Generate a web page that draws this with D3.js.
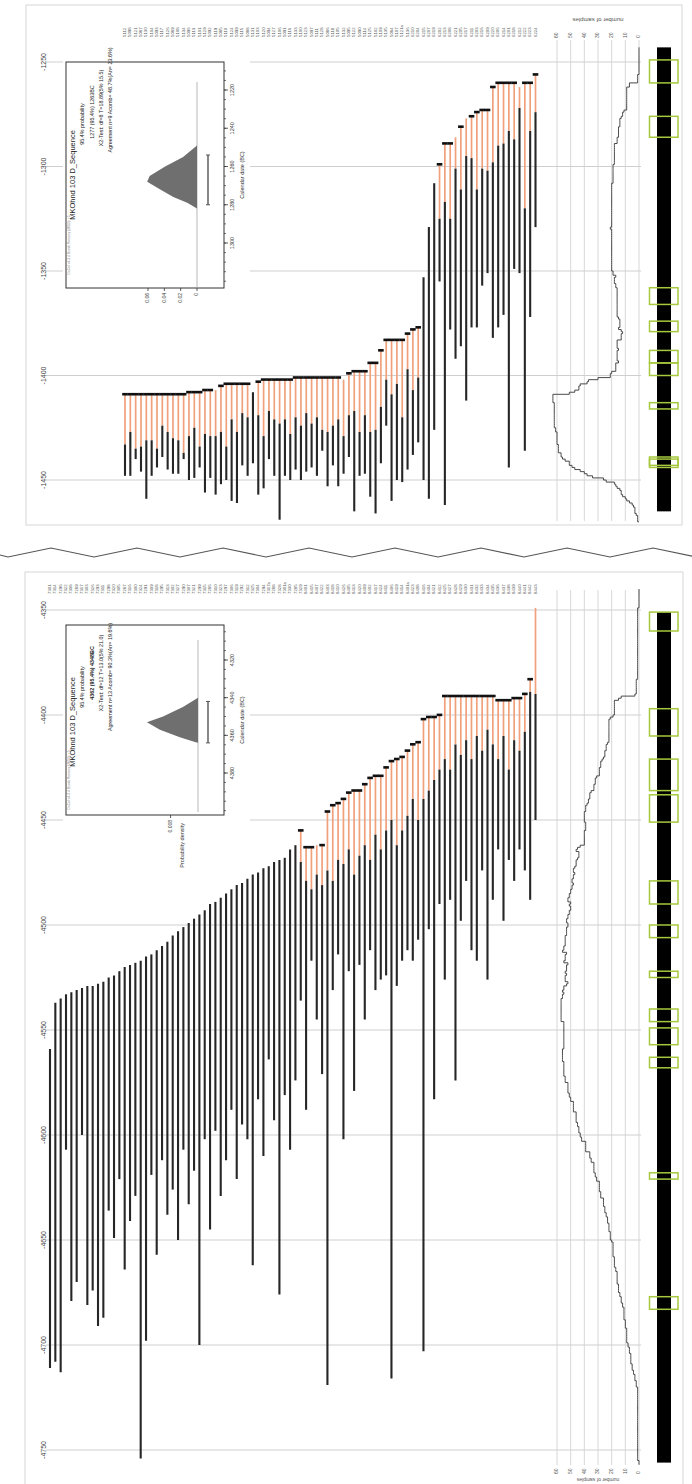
<!DOCTYPE html>
<html><head><meta charset="utf-8">
<script src="https://cdn.jsdelivr.net/npm/d3@7"></script>
<style>body{margin:0;background:#fff}svg{display:block;font-family:"Liberation Sans",Arial,sans-serif}</style>
</head><body><svg id="c" width="692" height="1484"></svg>
<script>
// ---------------- DATA ----------------
// Upper sequence (dates BC as negative years)
const topLabels = ["5112","5098","5121","5087","5130","5104","5093","5117","5126","5089",
"5108","5134","5096","5113","5101","5129","5092","5119","5085","5110",
"5124","5099","5115","5088","5131","5103","5120","5094","5127","5106",
"5091","5116","5133","5100","5123","5097","5111","5128","5086","5118",
"5105","5132","5095","5122","5090","5114","5125","5102","5109","5135",
"5084","5107","5121a","5136","6210","6204","6215","6207","6219","6202",
"6213","6208","6221","6205","6217","6211","6203","6216","6209","6220",
"6206","6214","6201","6218","6212","6222","6223","6224"];
const topEnd = [-1409,-1409,-1409,-1409,-1409,-1409,-1409,-1409,-1409,-1409,-1409,-1409,
-1408,-1408,-1408,-1407,-1407,-1407,-1405,-1404,-1404,-1404,-1404,-1404,-1408,-1403,
-1402,-1402,-1402,-1402,-1402,-1402,-1401,-1401,-1401,-1401,-1401,-1401,-1401,-1401,-1401,
-1402,-1399,-1398,-1398,-1398,-1394,-1394,-1388,-1383,-1383,-1383,-1383,-1380,-1378,-1377,
-1353,-1329,-1308,-1299,-1289,-1289,-1286,-1281,-1277,-1276,-1274,-1273,-1273,-1262,
-1260,-1260,-1260,-1260,-1262,-1260,-1260,-1256];
const topSap = [-1433,-1427,-1435,-1434,-1431,-1431,-1435,-1424,-1427,-1430,-1431,-1437,
-1429,-1425,-1434,-1428,-1429,-1429,-1427,-1434,-1421,-1427,-1418,-1420,-1408,-1419,
-1429,-1417,-1421,-1423,-1421,-1428,-1420,-1424,-1418,-1423,-1420,-1426,-1427,-1424,-1421,
-1429,-1419,-1417,-1427,-1419,-1427,-1426,-1415,-1402,-1409,-1404,-1420,-1397,-1407,-1401,
-1353,-1329,-1308,-1325,-1317,-1325,-1301,-1311,-1295,-1296,-1311,-1301,-1302,-1298,
-1290,-1289,-1283,-1287,-1272,-1320,-1283,-1274];
const topStart = [-1448,-1448,-1440,-1446,-1459,-1448,-1444,-1439,-1445,-1447,-1447,-1440,
-1450,-1449,-1444,-1456,-1449,-1457,-1452,-1450,-1460,-1461,-1443,-1448,-1442,-1457,
-1454,-1440,-1448,-1469,-1448,-1450,-1445,-1450,-1446,-1444,-1448,-1436,-1453,-1443,-1453,
-1447,-1439,-1465,-1448,-1447,-1458,-1466,-1442,-1424,-1460,-1450,-1451,-1445,-1438,-1432,
-1450,-1459,-1426,-1355,-1462,-1378,-1392,-1386,-1412,-1377,-1377,-1357,-1351,-1382,
-1377,-1371,-1444,-1349,-1351,-1436,-1372,-1329];
const topWaney = [1,1,1,1,1,1,1,1,1,1,1,1,1,1,1,1,1,0,1,1,1,1,1,1,0,1,
1,1,1,1,1,1,1,1,1,1,1,1,1,1,1,0,1,1,1,1,1,1,1,1,1,1,1,1,1,1,
0,0,0,1,1,1,0,1,0,1,1,1,1,1,1,1,1,1,0,1,1,1];
const topDateTicks = [-1250,-1300,-1350,-1400,-1450];
const topRangeBar = [-1243,-1465];
const topBoxes = [[-1249,-1260],[-1276,-1286],[-1358,-1366],[-1374,-1379],[-1388,-1394],
[-1394,-1400],[-1413,-1416],[-1439,-1443],[-1440,-1444]];

// Lower sequence
const botLabels = ["7301","7314","7296","7322","7308","7289","7317","7303","7326","7293",
"7311","7298","7320","7305","7287","7316","7300","7324","7291","7309",
"7318","7295","7313","7302","7327","7290","7307","7321","7299","7315",
"7286","7310","7323","7297","7306","7319","7292","7312","7325","7304",
"7294","7317a","7288","7328","7301a","7330","7285","7329","8401","8415",
"8407","8422","8403","8418","8410","8426","8405","8413","8420","8409",
"8402","8417","8424","8411","8406","8419","8414","8401a","8423","8408",
"8416","8404","8421","8412","8425","8427","8428","8429","8430","8431",
"8432","8433","8434","8435","8436","8437","8438","8439","8440","8441",
"8442","8443"];
const botEnd = [-4559,-4537,-4535,-4533,-4532,-4531,-4530,-4529,-4529,-4528,-4527,-4525,
-4524,-4522,-4520,-4519,-4518,-4517,-4515,-4514,-4512,-4510,-4508,-4505,-4503,-4501,
-4499,-4497,-4495,-4493,-4490,-4489,-4487,-4485,-4483,-4481,-4480,-4478,-4476,-4475,
-4473,-4472,-4470,-4469,-4468,-4464,-4462,
-4455,-4463,-4463,-4462,-4462,-4446,-4443,-4442,-4440,-4437,-4436,-4436,-4433,-4430,
-4429,-4429,-4425,-4422,-4421,-4420,-4417,-4414,-4413,-4402,-4401,-4401,-4400,
-4391,-4391,-4391,-4391,-4391,-4391,-4391,-4391,-4391,-4391,-4393,-4393,-4393,-4392,
-4392,-4390,-4383,-4349];
const botSap = [-4559,-4537,-4535,-4533,-4532,-4531,-4530,-4529,-4529,-4528,-4527,-4525,
-4524,-4522,-4520,-4519,-4518,-4517,-4515,-4514,-4512,-4510,-4508,-4505,-4503,-4501,
-4499,-4497,-4495,-4493,-4490,-4489,-4487,-4485,-4483,-4481,-4480,-4478,-4476,-4475,
-4473,-4472,-4470,-4469,-4468,-4464,-4462,
-4470,-4479,-4483,-4476,-4481,-4474,-4479,-4469,-4471,-4464,-4476,-4467,-4462,-4469,
-4457,-4464,-4455,-4450,-4462,-4455,-4448,-4440,-4450,-4440,-4436,-4431,-4426,
-4421,-4426,-4414,-4419,-4412,-4421,-4410,-4417,-4407,-4414,-4421,-4410,-4426,-4412,
-4417,-4408,-4389,-4390];
const botStart = [-4711,-4708,-4713,-4607,-4679,-4670,-4600,-4681,-4674,-4691,-4687,-4636,
-4649,-4621,-4664,-4641,-4629,-4754,-4698,-4619,-4657,-4612,-4638,-4626,-4650,-4607,
-4633,-4617,-4700,-4602,-4645,-4598,-4629,-4612,-4588,-4621,-4595,-4602,-4662,-4583,
-4610,-4564,-4593,-4676,-4581,-4607,-4574,
-4536,-4588,-4517,-4545,-4571,-4719,-4531,-4514,-4602,-4522,-4579,-4519,-4545,-4512,
-4531,-4526,-4524,-4716,-4529,-4517,-4512,-4517,-4507,-4703,-4502,-4583,-4490,
-4526,-4488,-4574,-4498,-4479,-4512,-4517,-4474,-4526,-4488,-4464,-4498,-4469,-4479,
-4464,-4474,-4488,-4450];
const botWaney = [0,0,0,0,0,0,0,0,0,0,0,0,0,0,0,0,0,0,0,0,0,0,0,0,0,0,0,0,0,0,0,0,0,0,0,0,0,0,0,0,0,0,0,0,0,0,0,
1,1,1,0,1,1,1,1,1,1,1,1,1,1,1,1,1,1,1,1,1,1,1,1,1,1,1,1,1,1,1,1,1,1,1,1,1,1,1,1,1,1,1,1,0];
const botDateTicks = [-4350,-4400,-4450,-4500,-4550,-4600,-4650,-4700,-4750];
const botRangeBar = [-4351,-4756];
const botBoxes = [[-4351,-4360],[-4397,-4410],[-4421,-4436],[-4438,-4451],[-4479,-4490],
[-4500,-4506],[-4522,-4525],[-4540,-4546],[-4549,-4557],[-4563,-4568],[-4618,-4621],[-4677,-4683]];

const countTicks = [60,50,40,30,20,10,0];

// Inset (boundary) distributions
const topInsetText = ["MKOhnd 103 D_Sequence","95.4% probability","1277 (95.4%) 1263BC",
"X2-Test: df=8 T=18.89(5% 15.5)","Agreement n=9 Acomb= 48.7%(An= 23.6%)"];
const topInsetTicks = [1220,1240,1260,1280,1300];
const topDensTicks = [0.06,0.04,0.02,0];
const topDensYear = [1249,1255,1260,1265,1268,1272,1276,1279,1282];
const topDensVal = [0,0.017,0.039,0.058,0.061,0.045,0.029,0.012,0];
const topRange95 = [1254,1280];

const botInsetText = ["MKOhnd 103 D_Sequence","95.4% probability","4362 (95.4%) 4348BC",
"X2-Test: df=12 T=13.0(5% 21.0)","Agreement n=13 Acomb= 90.3%(An= 19.6%)"];
const botInsetTicks = [4320,4340,4360,4380];
const botDensTicks = [0.008];
const botDensYear = [4340,4345,4350,4353,4357,4361,4363.5,4364];
const botDensVal = [0,0.0044,0.0102,0.0149,0.0111,0.0053,0.0009,0];
const botRange95 = [4342,4364];

// ---------------- DRAWING ----------------
const svg = d3.select('#c');
svg.append('rect').attr('width',692).attr('height',1484).attr('fill','#fff');

function panel(o){
  const g = svg.append('g');
  g.append('rect').attr('x',o.frame[0]).attr('y',o.frame[1]).attr('width',o.frame[2]).attr('height',o.frame[3])
    .attr('fill','none').attr('stroke','#d6d6d6').attr('stroke-width',1);
  const y = d3.scaleLinear().domain(o.yDom).range(o.yRng);
  const x = d3.scalePoint().domain(d3.range(o.end.length)).range(o.xRng);
  const cx = d3.scaleLinear().domain([0,60]).range([639,557]);

  // horizontal gridlines
  g.selectAll(null).data(o.dateTicks).join('line')
    .attr('x1',46).attr('x2',641).attr('y1',d=>y(d)).attr('y2',d=>y(d))
    .attr('stroke','#c9c9c9').attr('stroke-width',0.9);
  // date axis labels
  g.selectAll(null).data(o.dateTicks).join('text')
    .attr('transform',d=>`translate(44,${y(d)}) rotate(-90)`)
    .attr('text-anchor','middle').attr('dominant-baseline','middle')
    .attr('font-size',7).attr('fill','#444').text(d=>d);

  // count axis gridlines + labels
  g.selectAll(null).data(countTicks).join('line')
    .attr('x1',d=>cx(d)).attr('x2',d=>cx(d)).attr('y1',o.cntY[0]).attr('y2',o.cntY[1])
    .attr('stroke','#d2d2d2').attr('stroke-width',0.9);
  g.selectAll(null).data(countTicks).join('text')
    .attr('transform',d=>`translate(${cx(d)},${o.cntLabY}) rotate(-90)`)
    .attr('text-anchor','start').attr('dominant-baseline','middle')
    .attr('font-size',5).attr('fill','#555').text(d=>d);
  g.append('text').attr('transform',`translate(598,${o.cntTitleY}) rotate(180)`)
    .attr('text-anchor','middle').attr('font-size',o.cntTitleSize).attr('fill','#555').text('number of samples');

  // sample labels
  g.selectAll(null).data(o.labels).join('text')
    .attr('transform',(d,i)=>`translate(${x(i)},${o.labY}) rotate(-90)`)
    .attr('text-anchor','start').attr('dominant-baseline','middle')
    .attr('font-size',4.3).attr('fill','#555').text(d=>d);

  // inset cover + inset
  g.append('rect').attr('x',o.cover[0]).attr('y',o.cover[1]).attr('width',o.cover[2]).attr('height',o.cover[3]).attr('fill','#fff');
  inset(g, o.inset);

  // bars
  const idx = d3.range(o.end.length);
  g.selectAll(null).data(idx.filter(i=>o.end[i]!==o.sap[i])).join('line')
    .attr('x1',i=>x(i)).attr('x2',i=>x(i)).attr('y1',i=>y(o.end[i])).attr('y2',i=>y(o.sap[i]))
    .attr('stroke','#f0a17c').attr('stroke-width',1.7);
  g.selectAll(null).data(idx).join('line')
    .attr('x1',i=>x(i)).attr('x2',i=>x(i)).attr('y1',i=>y(o.sap[i])).attr('y2',i=>y(o.start[i]))
    .attr('stroke','#262626').attr('stroke-width',2.1);
  g.selectAll(null).data(idx.filter(i=>o.waney[i])).join('rect')
    .attr('x',i=>x(i)-2.8).attr('y',i=>y(o.end[i])-1.4).attr('width',5.6).attr('height',2.6)
    .attr('fill','#111');

  // sample count curve
  const yrs = d3.range(o.curveDom[0], o.curveDom[1]-1, -1);
  const pts = yrs.map(yr=>{
    let c=0; for(const i of idx){ if(yr<=o.end[i] && yr>=o.start[i]) c++; }
    return [c,yr];
  });
  g.append('path').datum(pts)
    .attr('d',d3.line().x(p=>cx(p[0])).y(p=>y(p[1])).curve(d3.curveStepBefore))
    .attr('fill','none').attr('stroke','#4a4a4a').attr('stroke-width',1);

  // range bar + boxes
  g.append('rect').attr('x',657).attr('width',14).attr('y',y(o.rangeBar[0]))
    .attr('height',y(o.rangeBar[1])-y(o.rangeBar[0])).attr('fill','#000');
  g.selectAll(null).data(o.boxes).join('rect')
    .attr('x',649.5).attr('width',28.5).attr('y',b=>y(b[0])).attr('height',b=>Math.max(2,y(b[1])-y(b[0])))
    .attr('fill','none').attr('stroke','#a6c83e').attr('stroke-width',1.5);
}

function inset(g, s){
  const [bx,by,bw,bh] = s.box;
  const yy = d3.scaleLinear().domain(s.yDom).range(s.yRng);
  const dx = d3.scaleLinear().domain(s.dDom).range(s.dRng);
  g.append('rect').attr('x',bx).attr('y',by).attr('width',bw).attr('height',bh)
    .attr('fill','#fff').attr('stroke','#333').attr('stroke-width',1);
  g.append('line').attr('x1',dx(0)).attr('x2',dx(0)).attr('y1',s.baseY[0]).attr('y2',s.baseY[1])
    .attr('stroke','#c4c4c4').attr('stroke-width',1.2);
  const pts = s.years.map((yr,i)=>[yr,s.vals[i]]);
  g.append('path').datum(pts)
    .attr('d',d3.area().y(p=>yy(p[0])).x0(dx(0)).x1(p=>dx(p[1])))
    .attr('fill','#6f6f6f');
  g.append('line').attr('x1',208).attr('x2',208).attr('y1',yy(s.range[0])).attr('y2',yy(s.range[1]))
    .attr('stroke','#555').attr('stroke-width',1.4);
  [s.range[0],s.range[1]].forEach(r=>g.append('line').attr('x1',206).attr('x2',210)
    .attr('y1',yy(r)).attr('y2',yy(r)).attr('stroke','#555').attr('stroke-width',1));
  const minor = d3.range(s.yDom[0]-40, s.yDom[1]+45, 5).filter(v=>yy(v)>by+2 && yy(v)<by+bh-2);
  g.selectAll(null).data(minor).join('line')
    .attr('x1',bx+bw).attr('x2',bx+bw+2).attr('y1',d=>yy(d)).attr('y2',d=>yy(d))
    .attr('stroke','#333').attr('stroke-width',0.7);
  g.selectAll(null).data(s.ticks).join('line')
    .attr('x1',bx+bw).attr('x2',bx+bw+4).attr('y1',d=>yy(d)).attr('y2',d=>yy(d))
    .attr('stroke','#333').attr('stroke-width',0.8);
  g.selectAll(null).data(s.ticks).join('text')
    .attr('transform',d=>`translate(${bx+bw+9},${yy(d)}) rotate(-90)`)
    .attr('text-anchor','middle').attr('dominant-baseline','middle')
    .attr('font-size',5.5).attr('fill','#333').text(d=>d);
  g.append('text').attr('transform',`translate(${bx+bw+19},${by+bh/2}) rotate(-90)`)
    .attr('text-anchor','middle').attr('dominant-baseline','middle')
    .attr('font-size',5.5).attr('fill','#333').text('Calendar date (BC)');
  g.selectAll(null).data(s.dTicks).join('line')
    .attr('x1',d=>dx(d)).attr('x2',d=>dx(d)).attr('y1',by+bh).attr('y2',by+bh+3)
    .attr('stroke','#333').attr('stroke-width',0.8);
  g.selectAll(null).data(s.dTicks).join('text')
    .attr('transform',d=>`translate(${dx(d)},${by+bh+5}) rotate(-90)`)
    .attr('text-anchor','end').attr('dominant-baseline','middle')
    .attr('font-size',5).attr('fill','#333').text(d=>d);
  if(s.dTitle){
    g.append('text').attr('transform',`translate(183,${by+bh+8}) rotate(-90)`)
      .attr('text-anchor','end').attr('dominant-baseline','middle')
      .attr('font-size',5.5).attr('fill','#333').text('Probability density');
  }
  const cols=[73,83,93,102,111];
  s.text.forEach((t,i)=>{
    g.append('text').attr('transform',`translate(${cols[i]},${by+s.textOff[i]}) rotate(-90)`)
      .attr('text-anchor','middle').attr('dominant-baseline','middle')
      .attr('font-size',i===0?7.5:5.4).attr('font-weight',(i===2&&s.bold)?'bold':'normal')
      .attr('fill','#222').text(t);
  });
  g.append('text').attr('transform',`translate(69,${by+bh-s.creditOff}) rotate(-90)`)
    .attr('text-anchor','middle').attr('dominant-baseline','middle')
    .attr('font-size',3.4).attr('fill','#888').text('OxCal v4.2.4 Bronk Ramsey (2013); r:5');
}

panel({
  frame:[26,5,656,520], yDom:[-1250,-1450], yRng:[62,480], xRng:[125,535.5],
  labels:topLabels, end:topEnd, sap:topSap, start:topStart, waney:topWaney,
  dateTicks:topDateTicks, cntY:[40,521], cntLabY:38, cntTitleY:18, cntTitleSize:6, labY:37,
  cover:[63,52,187,262], curveDom:[-1243,-1470], rangeBar:topRangeBar, boxes:topBoxes,
  inset:{box:[66,62,158,226], yDom:[1220,1300], yRng:[90,243], dDom:[0,0.06], dRng:[197,148],
    baseY:[82,287], years:topDensYear, vals:topDensVal, range:topRange95, ticks:topInsetTicks,
    dTicks:topDensTicks, text:topInsetText, textOff:[113,62,50,46,38], bold:false, creditOff:43, dTitle:false}
});
panel({
  frame:[25,572,658,930], yDom:[-4350,-4750], yRng:[610,1450], xRng:[50,535.5],
  labels:botLabels, end:botEnd, sap:botSap, start:botStart, waney:botWaney,
  dateTicks:botDateTicks, cntY:[590,1465], cntLabY:1474, cntTitleY:1478, cntTitleSize:5, labY:594,
  cover:[63,617,187,255], curveDom:[-4340,-4757], rangeBar:botRangeBar, boxes:botBoxes,
  inset:{box:[66,625,158,190], yDom:[4320,4380], yRng:[660,773], dDom:[0,0.014], dRng:[198,150],
    baseY:[640,812], years:botDensYear, vals:botDensVal, range:botRange95, ticks:botInsetTicks,
    dTicks:botDensTicks, text:botInsetText, textOff:[97,62,48,48,52], bold:true, creditOff:35, dTitle:true}
});

// zigzag break line
const zz = [[0,555]];
for(let k=0;k<=17;k++){ zz.push([8+43*k, k%2===1?548:557]); }
svg.append('path').datum(zz).attr('d',d3.line())
  .attr('fill','none').attr('stroke','#555').attr('stroke-width',1.2);
</script></body></html>
